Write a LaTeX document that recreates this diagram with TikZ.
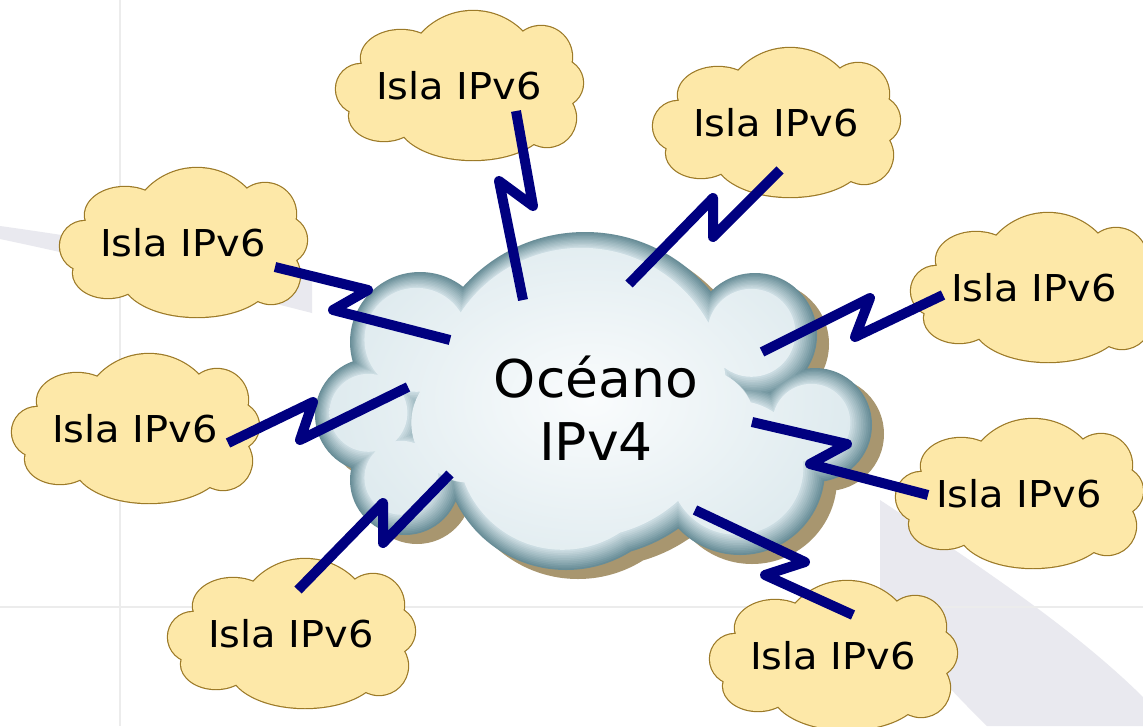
\documentclass[tikz,border=0pt]{standalone}
\usepackage{fontspec}
\newfontfamily\islafont[FakeStretch=1.08]{DejaVu Sans}
\newfontfamily\oceanfont[FakeStretch=1.03]{DejaVu Sans}
\usetikzlibrary{calc}
\definecolor{navyline}{HTML}{000080}
\definecolor{islafill}{HTML}{FDE8A8}
\definecolor{islaline}{HTML}{9C7A28}
\definecolor{bggray}{HTML}{E9E9EF}
\definecolor{bgline}{HTML}{ECECEC}
\definecolor{shadowtan}{HTML}{A8966F}
\definecolor{ocdark}{HTML}{688D97}
\definecolor{oclight}{HTML}{D5E4E9}
\definecolor{ocin}{HTML}{FAFCFD}
\definecolor{ocout}{HTML}{D6E5EA}
\tikzset{
  islapath/.style={insert path={
    (14,-5) circle[radius=70]
    (82,-29) circle[radius=31]
    (100,-3) circle[radius=24]
    (88,32) circle[radius=29]
    (14,35) ellipse[x radius=75,y radius=39]
    (-75,30) ellipse[x radius=35,y radius=25]
    (-98,3) circle[radius=25]
    (-58,-28) ellipse[x radius=40,y radius=28]
    (5,5) ellipse[x radius=95,y radius=50]}},
  oceanpath/.style={insert path={
    (585,395) circle[radius=163-#1]
    (420,342) circle[radius=70-#1]
    (372,415) circle[radius=57-#1]
    (405,480) circle[radius=55-#1]
    (566,447) circle[radius=123-#1]
    (740,470) circle[radius=85-#1]
    (815,425) circle[radius=57-#1]
    (755,335) circle[radius=62-#1]
    (590,400) circle[radius=130-#1]
    (475,425) circle[radius=60]
    (700,430) circle[radius=60]}},
  pics/islacloud/.style={code={
    \fill[islafill, draw=islaline, line width=2.4pt, islapath];
    \fill[islafill, islapath];}},
  islatext/.style={font=\islafont\fontsize{37}{44}\selectfont, inner sep=0pt},
  oceantext/.style={font=\oceanfont\fontsize{52}{63}\selectfont, align=center, inner sep=0pt},
  zz/.style={draw=navyline, line width=10pt, line join=round}
}
\begin{document}
\begin{tikzpicture}[x=1pt,y=-1pt]
\useasboundingbox (0,0) rectangle (1143,726);
\clip (0,0) rectangle (1143,726);
\fill[white] (0,0) rectangle (1143,726);
% background swoosh
\fill[bggray] (0,226) .. controls (100,240) and (220,260) .. (312,281) -- (312,313) .. controls (210,287) and (100,260) .. (0,239) -- cycle;
\fill[bggray] (880,500) .. controls (970,560) and (1070,625) .. (1143,697) -- (1143,726) -- (987,726) .. controls (950,690) and (915,650) .. (880,612) -- cycle;
\draw[bgline, line width=1.5pt] (120,0) -- (120,726);
\draw[bgline, line width=1.5pt] (0,607) -- (1143,607);
% ocean cloud
\fill[shadowtan, shift={(12,9)}, oceanpath=0];
\foreach \d [evaluate=\d as \p using {int(100*\d/18)}] in {0,1.5,...,16.5}{
  \fill[oclight!\p!ocdark, shift={(-0.2*\d,-0.12*\d)}, oceanpath=\d];
}
\begin{scope}
  \clip[shift={(-3.6,-2.2)}, oceanpath=18];
  \shade[inner color=ocin, outer color=ocout] (590,400) ellipse[x radius=340, y radius=240];
\end{scope}
\node[oceantext] (ocean) at (596,408) {Océano\\IPv4};
% islands
\foreach \n/\x/\y in {1/459/86, 2/776/123, 3/183/243, 4/1034/288, 5/135/429, 6/1019/494, 7/291/634, 8/833/656}{
  \pic at (\x,\y) {islacloud};
  \node[islatext] (i\n) at (\x,\y) {Isla IPv6};
}
% connectors
\draw[zz] ($(i1)+(57,25)$) -- ++(17,95) -- ++(-34,-25) -- ($(ocean)+(-73,-108)$);
\draw[zz] ($(i2)+(4,47)$) -- ++(-67,67) -- ++(0,-39) -- ($(ocean)+(33,-124)$);
\draw[zz] ($(i3)+(92,24)$) -- ++(93,23) -- ++(-35,20) -- ($(ocean)+(-146,-68)$);
\draw[zz] ($(i4)+(-91,7)$) -- ++(-88,42) -- ++(15,-39) -- ($(ocean)+(166,-56)$);
\draw[zz] ($(i5)+(93,14)$) -- ++(85,-41) -- ++(-13,38) -- ($(ocean)+(-188,-21)$);
\draw[zz] ($(i6)+(-91,1)$) -- ++(-118,-31) -- ++(37,-20) -- ($(ocean)+(156,14)$);
\draw[zz] ($(i7)+(7,-44)$) -- ++(85,-87) -- ++(0,40) -- ($(ocean)+(-146,66)$);
\draw[zz] ($(i8)+(20,-41)$) -- ++(-88,-40) -- ++(40,-13) -- ($(ocean)+(99,102)$);
\end{tikzpicture}
\end{document}
